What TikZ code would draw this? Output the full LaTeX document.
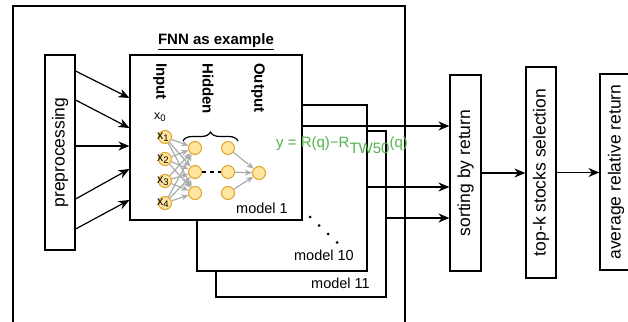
\documentclass[tikz,border=0pt]{standalone}
\usepackage{fontspec}
\setmainfont{Liberation Sans}
\usetikzlibrary{arrows.meta,decorations.pathreplacing,calc}
\definecolor{fnngreen}{RGB}{84,180,74}
\definecolor{nfill}{RGB}{255,230,160}
\definecolor{ndraw}{RGB}{226,168,50}
\definecolor{arrgray}{RGB}{172,172,172}
\newcommand{\mysub}[1]{\raisebox{-2.5pt}{\fontsize{9.5}{10}\selectfont #1}}
\begin{document}
\begin{tikzpicture}[x=1pt,y=-1pt,
  box/.style={draw,line width=1.2pt,fill=white,inner sep=0pt},
  biglbl/.style={font=\fontsize{17.5}{20}\selectfont,rotate=90,inner sep=0pt},
  layerlbl/.style={font=\fontsize{15}{17}\selectfont\bfseries,rotate=-90,anchor=west,inner sep=0pt},
  modellbl/.style={font=\fontsize{14.5}{16}\selectfont,anchor=east,inner sep=0pt},
  neuron/.style={circle,draw=ndraw,fill=nfill,line width=1.1pt,minimum size=13pt,inner sep=0pt},
  xlbl/.style={font=\fontsize{12.5}{13}\selectfont,inner sep=0pt},
  blackarr/.style={line width=1.2pt,-{Stealth[length=11pt,width=9pt]}},
  grayarr/.style={draw=arrgray,line width=1.2pt,-{Stealth[length=7pt,width=6pt]}},
]
\useasboundingbox (0,0) rectangle (628,321);
\clip (0,0) rectangle (628,321);
\fill[white] (0,0) rectangle (628,321);

% outer frame
\node[box,fill=none,minimum width=392pt,minimum height=344pt] (outer) at (209,178) {};

% preprocessing
\node[box,minimum width=30pt,minimum height=195pt] (pre) at (60,152.5) {};
\node[biglbl] (prel) at (pre.center) {preprocessing};

% model boxes
\node[box,minimum width=170pt,minimum height=166pt] (m11) at (301,214) {};
\node[modellbl] (m11l) at (370,283) {model 11};
\node[box,minimum width=170pt,minimum height=166pt] (m10) at (282,188) {};
\node[modellbl] (m10l) at (354,255) {model 10};
\node[box,minimum width=172pt,minimum height=165pt] (m1) at (216,137.5) {};
\node[modellbl] (m1l) at (288,208) {model 1};

\node[font=\fontsize{15}{17}\selectfont\bfseries,inner sep=0pt] (title) at (216,42) {\underline{FNN as example}};

% layer labels
\node[layerlbl] (linput) at (160,63) {Input};
\node[layerlbl] (lhidden) at (208,63) {Hidden};
\node[layerlbl] (loutput) at (258,63) {Output};

% network
\node[xlbl] (x0) at (160,117) {x\mysub{0}};
\node[neuron] (i1) at (165,137) {};
\node[neuron] (i2) at (165,159) {};
\node[neuron] (i3) at (165,181) {};
\node[neuron] (i4) at (165,203) {};
\node[neuron] (ha) at (195,148) {};
\node[neuron] (hb) at (195,172) {};
\node[neuron] (hc) at (195,193) {};
\node[neuron] (ga) at (228,148) {};
\node[neuron] (gb) at (228,172) {};
\node[neuron] (gc) at (228,193) {};
\node[neuron] (out) at (259,173) {};

\foreach \i in {i1,i2,i3,i4}{
  \foreach \h in {ha,hb,hc}{
    \draw[grayarr] (\i) -- (\h);
  }
}
\foreach \g in {ga,gb,gc}{
  \draw[grayarr] (\g) -- (out);
}
\draw[line width=1.2pt,dash pattern=on 4pt off 4pt] (hb) -- (gb);

\node[xlbl] (x1l) at (163,137) {x\mysub{1}};
\node[xlbl] (x2l) at (163,159) {x\mysub{2}};
\node[xlbl] (x3l) at (163,181) {x\mysub{3}};
\node[xlbl] (x4l) at (163,203) {x\mysub{4}};

\coordinate (brL) at (183,141);
\coordinate (brR) at (238,141);
\draw[line width=1.2pt,decorate,decoration={brace,amplitude=9pt}] (brL) -- (brR);

% dots
\foreach \p in {(310,217),(319,225.5),(328,234),(337,242.5)}{
  \fill \p circle[radius=1.5pt];
}

% right boxes
\node[box,minimum width=31pt,minimum height=196pt] (sort) at (465.5,173) {};
\node[biglbl] (sortl) at (sort.center) {sorting by return};
\node[box,minimum width=30pt,minimum height=211pt] (topk) at (541,172.5) {};
\node[biglbl] (topkl) at (topk.center) {top-k stocks selection};
\node[box,minimum width=32pt,minimum height=196pt] (avg) at (616,172) {};
\node[biglbl] (avgl) at (avg.center) {average relative return};

% arrows preprocessing -> model 1
\draw[blackarr] ([yshift=81.5pt]pre.east) -- ([yshift=39.5pt]m1.west);
\draw[blackarr] ([yshift=52.5pt]pre.east) -- ([yshift=9.5pt]m1.west);
\draw[blackarr] ([yshift=6.5pt]pre.east) -- ([yshift=-8.5pt]m1.west);
\draw[blackarr] ([yshift=-46.5pt]pre.east) -- ([yshift=-31.5pt]m1.west);
\draw[blackarr] ([yshift=-76.5pt]pre.east) -- ([yshift=-62.5pt]m1.west);

% models -> sorting
\draw[blackarr] ([yshift=11.5pt]m1.east) -- ([yshift=11.5pt]m1.east -| sort.west);
\draw[blackarr] ([yshift=1pt]m10.east) -- ([yshift=1pt]m10.east -| sort.west);
\draw[blackarr] ([yshift=-4pt]m11.east) -- ([yshift=-4pt]m11.east -| sort.west);

\draw[blackarr] (sort.east) -- (sort.east -| topk.west);
\draw[blackarr] (topk.east) -- (topk.east -| avg.west);

% formula
\node[font=\fontsize{15}{17}\selectfont,text=fnngreen,anchor=base west,inner sep=0pt] (formula) at (276,147) {y = R(q)−R\raisebox{-6pt}{TW50}(q)};
\end{tikzpicture}
\end{document}
